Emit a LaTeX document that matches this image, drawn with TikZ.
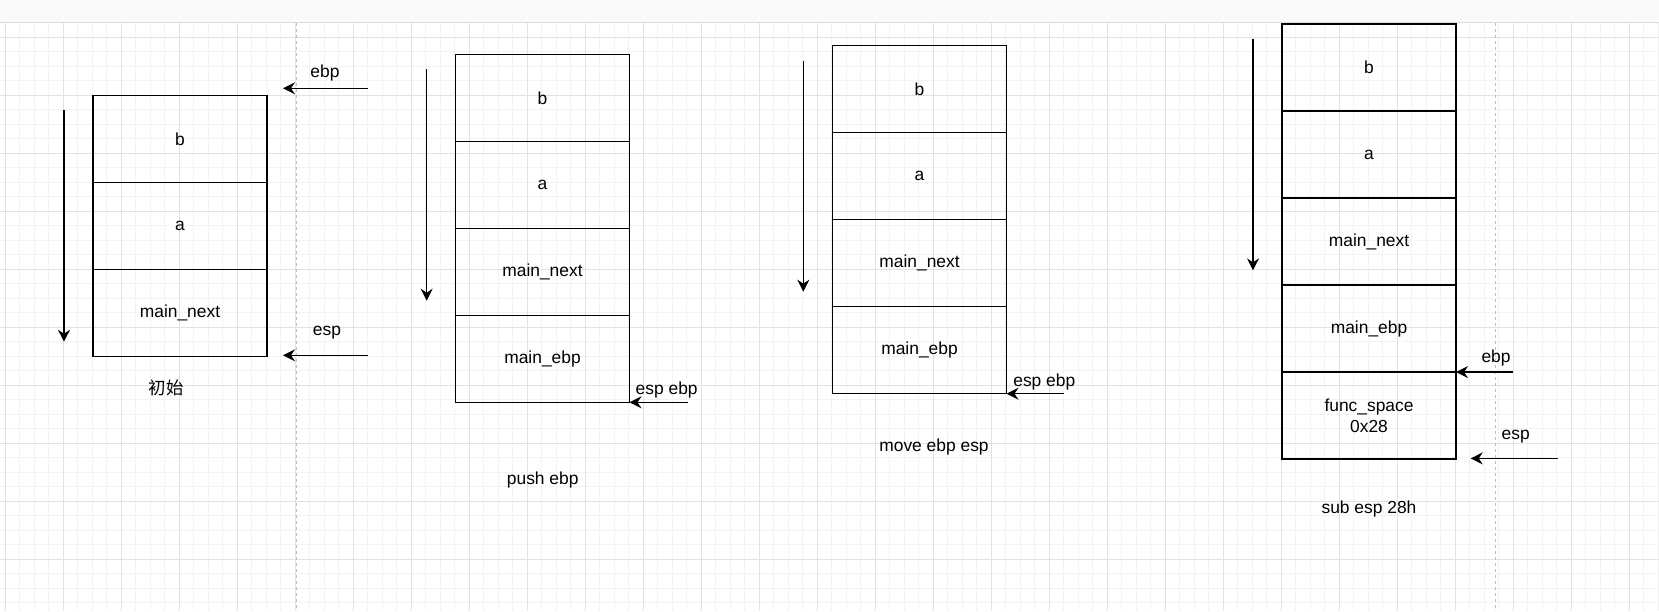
\documentclass[tikz,border=0pt]{standalone}
\usepackage{fontspec}
\setmainfont{Liberation Sans}
\newfontfamily\cjk{Noto Sans CJK SC}
\usetikzlibrary{arrows.meta}
\definecolor{gridminor}{HTML}{F3F3F3}
\definecolor{gridmajor}{HTML}{E2E2E2}
\definecolor{barfill}{HTML}{FAFAFA}
\definecolor{barline}{HTML}{DDDDDD}
\definecolor{pagebreak}{HTML}{BDBDBD}
\tikzset{
  cell/.style={draw=black, line width=1.1pt, minimum width=130.5pt, minimum height=65.25pt,
    inner sep=0pt, outer sep=0pt, align=center, font=\fontsize{13.05pt}{16.2pt}\selectfont},
  lbl/.style={inner sep=0pt, font=\fontsize{13.05pt}{16.2pt}\selectfont},
  ptr/.style={line width=1.1pt, -{Stealth[length=9pt,width=9pt,inset=3pt]}},
  minorline/.style={draw=gridminor, line width=0.75pt},
  majorline/.style={draw=gridmajor, line width=0.75pt},
  pagebreakline/.style={draw=pagebreak, line width=0.75pt, dash pattern=on 2.25pt off 2.25pt},
}
\begin{document}
\begin{tikzpicture}[x=0.75pt,y=-0.75pt]
\useasboundingbox (0,0) rectangle (1659,611);
\fill[white] (0,0) rectangle (1659,611);
% grid
\foreach \i in {0,...,114} {\draw[minorline] ({5.3+14.5*\i},23) -- ({5.3+14.5*\i},611);}
\foreach \j in {0,...,39} {\draw[minorline] (0,{37.3+14.5*\j}) -- (1659,{37.3+14.5*\j});}
\foreach \i in {0,...,28} {\draw[majorline] ({5.3+58*\i},23) -- ({5.3+58*\i},611);}
\foreach \j in {0,...,9} {\draw[majorline] (0,{37.3+58*\j}) -- (1659,{37.3+58*\j});}
% top bar
\fill[barfill] (0,0) rectangle (1659,22.7);
\draw[barline, line width=0.75pt] (0,22.7) -- (1659,22.7);
% page breaks
\draw[pagebreakline] (296,23) -- (296,611);
\draw[pagebreakline] (1495.7,23) -- (1495.7,611);

% ---------- stack 1 ----------
\node[cell] (b1c1) at (180,138.8) {b};
\node[cell] (b1c2) at (180,225.8) {a};
\node[cell] (b1c3) at (180,312.8) {main\_next};
\coordinate (d1s) at (64,110);
\coordinate (d1e) at (64,341.7);
\draw[ptr] (d1s) -- (d1e);
\coordinate (p1a) at (368,88.3);
\coordinate (p1b) at (283,88.3);
\draw[ptr] (p1a) -- (p1b);
\node[lbl] (l1ebp) at (325,73) {ebp};
\coordinate (p1c) at (368,355.3);
\coordinate (p1d) at (283,355.3);
\draw[ptr] (p1c) -- (p1d);
\node[lbl] (l1esp) at (327,333) {esp};
\node[lbl] (cap1) at (166,388) {\cjk 初始};

% ---------- stack 2 ----------
\node[cell] (b2c1) at (542.5,97.8) {b};
\node[cell] (b2c2) at (542.5,184.8) {a};
\node[cell] (b2c3) at (542.5,271.8) {main\_next};
\node[cell] (b2c4) at (542.5,358.8) {main\_ebp};
\coordinate (d2s) at (426.7,69.3);
\coordinate (d2e) at (426.7,300.7);
\draw[ptr] (d2s) -- (d2e);
\path (b2c4.south east) ++(58,0) coordinate (p2a);
\draw[ptr] (p2a) -- (b2c4.south east);
\node[lbl] (l2) at (666.7,390) {esp ebp};
\node[lbl] (cap2) at (542.7,480) {push ebp};

% ---------- stack 3 ----------
\node[cell] (b3c1) at (919.5,89.2) {b};
\node[cell] (b3c2) at (919.5,176.2) {a};
\node[cell] (b3c3) at (919.5,263.2) {main\_next};
\node[cell] (b3c4) at (919.5,350.2) {main\_ebp};
\coordinate (d3s) at (803.3,60.7);
\coordinate (d3e) at (803.3,291.7);
\draw[ptr] (d3s) -- (d3e);
\path (b3c4.south east) ++(57.6,0) coordinate (p3a);
\draw[ptr] (p3a) -- (b3c4.south east);
\node[lbl] (l3) at (1044.3,381.7) {esp ebp};
\node[lbl] (cap3) at (934,447.3) {move ebp esp};

% ---------- stack 4 ----------
\node[cell] (b4c1) at (1369,67.6) {b};
\node[cell] (b4c2) at (1369,154.6) {a};
\node[cell] (b4c3) at (1369,241.6) {main\_next};
\node[cell] (b4c4) at (1369,328.6) {main\_ebp};
\node[cell] (b4c5) at (1369,415.6) {func\_space\\0x28};
\coordinate (d4s) at (1253,38.9);
\coordinate (d4e) at (1253,270.4);
\draw[ptr] (d4s) -- (d4e);
\path (b4c4.south east) ++(57.4,0) coordinate (p4a);
\draw[ptr] (p4a) -- (b4c4.south east);
\node[lbl] (l4ebp) at (1496,357.5) {ebp};
\coordinate (p4c) at (1557.7,458.4);
\coordinate (p4d) at (1470.7,458.4);
\draw[ptr] (p4c) -- (p4d);
\node[lbl] (l4esp) at (1515.7,436.7) {esp};
\node[lbl] (cap4) at (1369,508.7) {sub esp 28h};
\end{tikzpicture}
\end{document}
